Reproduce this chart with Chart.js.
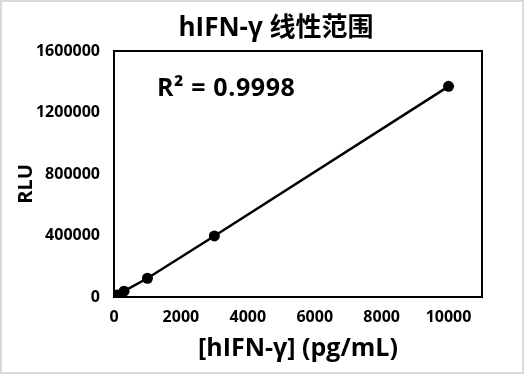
<!DOCTYPE html>
<html><head><meta charset="utf-8">
<script src="https://cdn.jsdelivr.net/npm/chart.js@4"></script>
<style>
html,body{margin:0;padding:0;background:#d9d9d9;}
#wrap{position:absolute;left:2px;top:2px;width:520px;height:370px;background:#fff;}
</style></head><body>
<div id="wrap"><canvas id="c" width="520" height="370"></canvas></div>
<script>
const concentrations = [0, 10, 30, 100, 300, 1000, 3000, 10000];
const rlu = [500, 1400, 4000, 13600, 38000, 122000, 397000, 1370000];
const xTicks = [0, 2000, 4000, 6000, 8000, 10000];
const titleText = 'hIFN-γ 线性范围';
const xTitle = '[hIFN-γ] (pg/mL)';
const yTitle = 'RLU';
const r2Text = 'R² = 0.9998';

const FONT = "'Open Sans', 'Noto Sans CJK SC', sans-serif";
const annot = {
  id: 'annot',
  afterDraw(chart) {
    const ctx = chart.ctx, a = chart.chartArea;
    ctx.save();
    ctx.strokeStyle = '#000'; ctx.lineWidth = 2;
    ctx.strokeRect(a.left, a.top, a.right - a.left, a.bottom - a.top);
    ctx.fillStyle = '#000';
    ctx.textBaseline = 'middle';
    // chart title
    ctx.font = "bold 26px " + FONT;
    ctx.textAlign = 'center';
    ctx.fillText(titleText, 274, 27);
    // R² annotation
    ctx.font = "bold 25px " + FONT;
    ctx.letterSpacing = '0.6px';
    ctx.textAlign = 'left';
    ctx.fillText(r2Text, 155, 87);
    ctx.letterSpacing = '0px';
    // y axis title
    ctx.font = "bold 20px " + FONT;
    ctx.translate(24, 182);
    ctx.rotate(-Math.PI / 2);
    ctx.textAlign = 'center';
    ctx.fillText(yTitle, 0, 0);
    ctx.restore();
  }
};
new Chart(document.getElementById('c'), {
  type: 'scatter',
  data: { datasets: [{
    data: concentrations.map((x, i) => ({x, y: rlu[i]})),
    showLine: true, borderColor: '#000', backgroundColor: '#000',
    borderWidth: 2.5, pointRadius: 5.5, pointHoverRadius: 5.5, pointBorderWidth: 0
  }]},
  plugins: [annot],
  options: {
    responsive: false, animation: false,
    layout: { padding: { left: 0, right: 40, top: 49, bottom: 0 } },
    plugins: { legend: { display: false }, tooltip: { enabled: false }, title: { display: false } },
    scales: {
      x: { type: 'linear', min: 0, max: 11000,
        afterBuildTicks: s => { s.ticks = xTicks.map(v => ({value: v})); },
        afterFit: s => { s.height = 75; },
        grid: { display: false, drawTicks: false },
        border: { display: false },
        ticks: { color: '#000', font: { family: FONT, size: 16, weight: 'bold' }, padding: 11,
          callback: v => String(v) },
        title: { display: true, text: xTitle, color: '#000',
          font: { family: FONT, size: 25, weight: 'bold' }, padding: { top: 0, bottom: 8 } } },
      y: { min: 0, max: 1600000,
        afterFit: s => { s.width = 112; },
        ticks: { stepSize: 400000, color: '#000', font: { family: FONT, size: 16, weight: 'bold' }, padding: 14,
          callback: v => String(v) },
        grid: { display: false, drawTicks: false }, border: { display: false } }
    }
  }
});
</script></body></html>
